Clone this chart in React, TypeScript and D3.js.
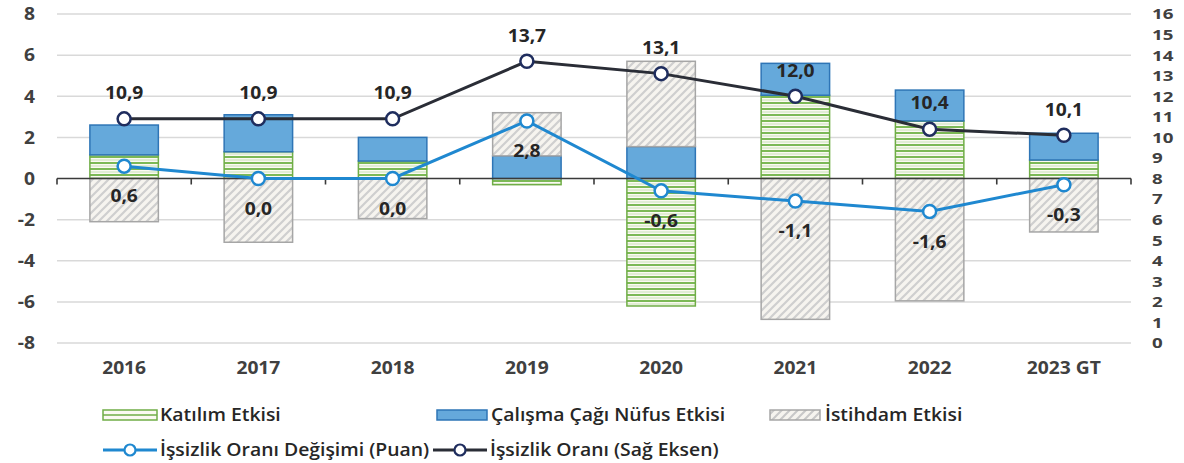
import React from "react";
import * as d3 from "d3";

const categories = ["2016", "2017", "2018", "2019", "2020", "2021", "2022", "2023 GT"];
const katilim = [1.15, 1.3, 0.85, -0.3, -6.2, 4.05, 2.8, 0.9];
const calisma = [1.45, 1.8, 1.15, 1.1, 1.55, 1.55, 1.5, 1.3];
const istihdam = [-2.1, -3.1, -1.95, 2.1, 4.15, -6.85, -5.95, -2.6];
const degisim = [0.6, 0.0, 0.0, 2.8, -0.6, -1.1, -1.6, -0.3];
const oran = [10.9, 10.9, 10.9, 13.7, 13.1, 12.0, 10.4, 10.1];
const leftTicks = [-8, -6, -4, -2, 0, 2, 4, 6, 8];
const rightTicks = d3.range(0, 17);
const seriesNames = ["Katılım Etkisi", "Çalışma Çağı Nüfus Etkisi", "İstihdam Etkisi"];
const lineNames = ["İşsizlik Oranı Değişimi (Puan)", "İşsizlik Oranı (Sağ Eksen)"];

const W = 1184, H = 463;
const plotL = 57, plotR = 1131, plotT = 14, plotB = 343;
const FONT = "'Open Sans', sans-serif";
const fmt = (v: number) => v.toFixed(1).replace(".", ",");

function T(props: { x: number; y: number; anchor?: string; size: number; weight?: number; fill?: string; sx?: number; children: any }) {
  const { x, y, anchor = "start", size, weight = 700, fill = "#404040", sx = 1.1, children } = props;
  return (
    <text transform={`translate(${x},${y}) scale(${sx},1)`} dy="0.36em" textAnchor={anchor as any}
      fontSize={size} fontWeight={weight} fill={fill}>{children}</text>
  );
}

export default function App() {
  const x = d3.scaleBand<string>().domain(categories).range([plotL, plotR]).paddingInner(0).paddingOuter(0);
  const yL = d3.scaleLinear().domain([-8, 8]).range([plotB, plotT]);
  const yR = d3.scaleLinear().domain([0, 16]).range([plotB, plotT]);
  const bw = x.bandwidth() * 0.51;
  const cx = (c: string) => (x(c) as number) + x.bandwidth() / 2;

  const rows = categories.map((c, i) => ({ cat: c, k: katilim[i], c2: calisma[i], s: istihdam[i] }));
  const stack = d3.stack<any>().keys(["k", "c2", "s"]).offset(d3.stackOffsetDiverging);
  const layers = stack(rows);
  const fills = ["url(#greenStripe)", "#65A9DB", "url(#hatch)"];
  const strokes = ["#70AD47", "#2E75B6", "#A6A6A6"];

  const line1 = d3.line<number>().x((_, i) => cx(categories[i])).y((d) => yL(d));
  const line2 = d3.line<number>().x((_, i) => cx(categories[i])).y((d) => yR(d));

  const boundaries = d3.range(categories.length + 1).map((i) => plotL + i * x.bandwidth());

  return (
    <svg width={W} height={H} style={{ position: "absolute", left: 0, top: 0, background: "#fff" }} fontFamily={FONT}>
      <defs>
        <pattern id="greenStripe" width="6" height="6" patternUnits="userSpaceOnUse">
          <rect width="6" height="6" fill="#FBF9F2" />
          <rect y="0" width="6" height="2" fill="#7CB956" />
          <rect y="3.5" width="6" height="1" fill="#C8E2B6" />
        </pattern>
        <pattern id="hatch" width="8" height="8" patternUnits="userSpaceOnUse">
          <rect width="8" height="8" fill="#F6F4EF" />
          <path d="M-2,10 L10,-2 M-2,2 L2,-2 M6,10 L10,6" stroke="#CFCFCF" strokeWidth="2.2" />
        </pattern>
        <pattern id="hatchLegend" width="8" height="8" patternUnits="userSpaceOnUse">
          <rect width="8" height="8" fill="#F6F4EF" />
          <path d="M-2,10 L10,-2 M-2,2 L2,-2 M6,10 L10,6" stroke="#C8C8C8" strokeWidth="2" />
        </pattern>
      </defs>

      {leftTicks.filter((t) => t !== 0).map((t) => (
        <line key={"g" + t} x1={plotL} x2={plotR} y1={yL(t)} y2={yL(t)} stroke="#D9D9D9" strokeWidth={1.5} />
      ))}

      {layers.map((layer, li) =>
        layer.map((d, i) => {
          const y0 = yL(Math.max(d[0], d[1]));
          const y1 = yL(Math.min(d[0], d[1]));
          if (Math.abs(y1 - y0) < 0.1) return null;
          return (
            <rect key={li + "-" + i} x={cx(categories[i]) - bw / 2} y={y0} width={bw} height={y1 - y0}
              fill={fills[li]} stroke={strokes[li]} strokeWidth={1.5} />
          );
        })
      )}

      <line x1={plotL} x2={plotR} y1={yL(0)} y2={yL(0)} stroke="#3A3A3A" strokeWidth={1.6} />
      {boundaries.map((b, i) => (
        <line key={"t" + i} x1={b} x2={b} y1={yL(0)} y2={yL(0) + 6} stroke="#3A3A3A" strokeWidth={1.6} />
      ))}

      {leftTicks.map((t) => (
        <T key={"l" + t} x={35} y={yL(t)} anchor="end" size={17.5}>{t}</T>
      ))}
      {rightTicks.map((t) => (
        <T key={"r" + t} x={1152} y={yR(t)} size={15} sx={1.25}>{t}</T>
      ))}
      {categories.map((c) => (
        <T key={"c" + c} x={cx(c)} y={368} anchor="middle" size={17.5}>{c}</T>
      ))}

      <path d={line2(oran) || ""} fill="none" stroke="#2A2D36" strokeWidth={3} />
      <path d={line1(degisim) || ""} fill="none" stroke="#1F88D0" strokeWidth={3} />
      {oran.map((v, i) => (
        <circle key={"o" + i} cx={cx(categories[i])} cy={yR(v)} r={6.5} fill="#fff" stroke="#1F2D5E" strokeWidth={2.5} />
      ))}
      {degisim.map((v, i) => (
        <circle key={"d" + i} cx={cx(categories[i])} cy={yL(v)} r={6.5} fill="#fff" stroke="#1F88D0" strokeWidth={2.5} />
      ))}

      {oran.map((v, i) => (
        <T key={"ol" + i} x={cx(categories[i])} y={yR(v) - 26} anchor="middle" size={17.5} fill="#262626">{fmt(v)}</T>
      ))}
      {degisim.map((v, i) => (
        <T key={"dl" + i} x={cx(categories[i])} y={yL(v) + 30} anchor="middle" size={17.5} fill="#262626">{fmt(v)}</T>
      ))}

      <g>
        <rect x={103} y={410} width={54} height={10} fill="#FBF9F2" stroke="#70AD47" strokeWidth={1.5} />
        <line x1={103} x2={157} y1={415} y2={415} stroke="#70AD47" strokeWidth={1.5} />
        <T x={160} y={415} size={17.3} weight={600} fill="#262626" sx={1.12}>{seriesNames[0]}</T>
        <rect x={437} y={410} width={50} height={10} fill="#65A9DB" stroke="#2E75B6" strokeWidth={1.5} />
        <T x={491} y={415} size={17.3} weight={600} fill="#262626" sx={1.12}>{seriesNames[1]}</T>
        <rect x={770} y={410} width={50} height={10} fill="url(#hatchLegend)" stroke="#A6A6A6" strokeWidth={1.5} />
        <T x={825} y={415} size={17.3} weight={600} fill="#262626" sx={1.12}>{seriesNames[2]}</T>

        <line x1={103} x2={157} y1={450} y2={450} stroke="#1F88D0" strokeWidth={3} />
        <circle cx={130} cy={450} r={5.5} fill="#fff" stroke="#1F88D0" strokeWidth={2.2} />
        <T x={160} y={450} size={17.3} weight={600} fill="#262626" sx={1.12}>{lineNames[0]}</T>
        <line x1={433} x2={487} y1={450} y2={450} stroke="#2A2D36" strokeWidth={3} />
        <circle cx={460} cy={450} r={5.5} fill="#fff" stroke="#1F2D5E" strokeWidth={2.2} />
        <T x={490} y={450} size={17.3} weight={600} fill="#262626" sx={1.12}>{lineNames[1]}</T>
      </g>
    </svg>
  );
}
